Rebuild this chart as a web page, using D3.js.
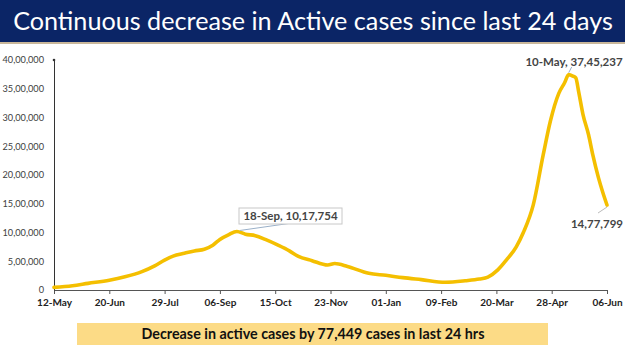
<!doctype html>
<html lang="en">
<head>
  <meta charset="utf-8">
  <title>Active cases - D3</title>
  <style>
    body { margin: 0; background: #fff; }
    svg { display: block; font-family: Lato, "Open Sans", sans-serif; }
  </style>
</head>
<body>
  <svg width="625" height="351"></svg>
  <script src="https://cdn.jsdelivr.net/npm/d3@7/dist/d3.min.js"></script>
  <script>
    var dates = ['2020-05-12', '2020-05-25', '2020-06-05', '2020-06-20', '2020-07-01', '2020-07-13', '2020-07-22',
      '2020-07-29', '2020-08-04', '2020-08-12', '2020-08-19', '2020-08-26', '2020-09-01', '2020-09-06', '2020-09-12',
      '2020-09-18', '2020-09-24', '2020-10-01', '2020-10-08', '2020-10-17', '2020-10-25', '2020-10-31', '2020-11-10',
      '2020-11-21', '2020-11-26', '2020-12-05', '2020-12-20', '2021-01-01', '2021-01-13', '2021-01-26', '2021-02-12',
      '2021-02-26', '2021-03-08', '2021-03-14', '2021-03-21', '2021-03-27', '2021-04-03', '2021-04-08', '2021-04-15',
      '2021-04-22', '2021-04-27', '2021-05-03', '2021-05-07', '2021-05-10', '2021-05-13', '2021-05-15', '2021-05-17',
      '2021-05-20', '2021-05-24', '2021-05-27', '2021-05-31', '2021-06-03', '2021-06-06'];
    var activeCases = [46000, 73000, 115000, 170000, 230000, 320000, 420000,
      520000, 590000, 640000, 680000, 710000, 780000, 880000, 960000,
      1017754, 970000, 945000, 880000, 780000, 680000, 590000, 510000,
      435000, 460000, 410000, 290000, 255000, 215000, 180000, 135000,
      160000, 190000, 225000, 350000, 520000, 750000, 1000000, 1480000,
      2350000, 2930000, 3420000, 3600000, 3745237, 3720000, 3690000, 3450000,
      3060000, 2700000, 2350000, 1950000, 1700000, 1477799];
    var tickDates = ['2020-05-12', '2020-06-20', '2020-07-29', '2020-09-06', '2020-10-15', '2020-11-23',
      '2021-01-01', '2021-02-09', '2021-03-20', '2021-04-28', '2021-06-06'];
    var yTicks = [0, 500000, 1000000, 1500000, 2000000, 2500000, 3000000, 3500000, 4000000];
    var title = 'Continuous decrease in Active cases since last 24 days';
    var footer = 'Decrease in active cases by 77,449 cases in last 24 hrs';

    var parse = d3.timeParse('%Y-%m-%d');
    var data = dates.map((d, i) => ({ date: parse(d), value: activeCases[i] }));

    // indian grouping: 37,45,237
    function inr(n) {
      var s = String(Math.round(n));
      if (s.length <= 3) return s;
      var last = s.slice(-3), rest = s.slice(0, -3);
      return rest.replace(/\B(?=(\d{2})+(?!\d))/g, ',') + ',' + last;
    }

    var svg = d3.select('svg');

    // title bar
    svg.append('rect').attr('width', 625).attr('height', 42).attr('fill', '#0b2566');
    svg.append('rect').attr('y', 42).attr('width', 625).attr('height', 2).attr('fill', '#c9b79a');
    var t = svg.append('text').attr('x', 313).attr('y', 30).attr('text-anchor', 'middle')
      .attr('fill', '#fff').attr('font-size', 26).text(title);
    var w = t.node().getComputedTextLength();
    t.attr('font-size', 26 * 600 / w);

    var x = d3.scaleTime().domain([parse(tickDates[0]), parse(tickDates[tickDates.length - 1])]).range([54, 607]);
    var y = d3.scaleLinear().domain([0, 4000000]).range([290, 60]);

    var xAxis = svg.append('g').attr('transform', 'translate(0,290)')
      .call(d3.axisBottom(x).tickValues(tickDates.map(parse)).tickFormat(d3.timeFormat('%d-%b')).tickSizeOuter(0).tickSize(4));
    xAxis.select('.domain').attr('stroke', '#555');
    xAxis.selectAll('.tick line').attr('stroke', '#555');
    xAxis.selectAll('text').attr('font-size', 10).attr('font-weight', 'bold').attr('fill', '#222')
      .attr('font-family', 'Lato, sans-serif').attr('dy', '0.9em');

    var yAxis = svg.append('g').attr('transform', 'translate(54,0)')
      .call(d3.axisLeft(y).tickValues(yTicks).tickFormat(inr).tickSize(0).tickPadding(10));
    yAxis.select('.domain').attr('stroke', '#333');
    yAxis.selectAll('text').attr('font-size', 9.2).attr('fill', '#404040').attr('font-family', 'Lato, sans-serif');
    svg.append('circle').attr('cx', 54).attr('cy', 60).attr('r', 1.3).attr('fill', '#333');

    var line = d3.line().x(d => x(d.date)).y(d => y(d.value)).curve(d3.curveMonotoneX);
    svg.append('path').datum(data).attr('d', line).attr('fill', 'none')
      .attr('stroke', '#f4bf00').attr('stroke-width', 3.6).attr('stroke-linejoin', 'round').attr('stroke-linecap', 'round');

    // annotations
    var sep = data[15], peak = data[43], last = data[data.length - 1];
    svg.append('line').attr('x1', x(sep.date) + 3).attr('y1', y(sep.value) - 1).attr('x2', 292).attr('y2', 223)
      .attr('stroke', '#9ab0c8').attr('stroke-width', 1);
    svg.append('rect').attr('x', 239).attr('y', 208).attr('width', 103).attr('height', 16)
      .attr('fill', '#fff').attr('stroke', '#c8c8c8');
    svg.append('text').attr('x', 290.5).attr('y', 220).attr('text-anchor', 'middle').attr('font-size', 11.5)
      .attr('font-weight', 'bold').attr('fill', '#444').text(d3.timeFormat('%d-%b')(sep.date) + ', ' + inr(sep.value));

    svg.append('line').attr('x1', x(peak.date)).attr('y1', y(peak.value) - 2).attr('x2', x(peak.date) + 3).attr('y2', 67)
      .attr('stroke', '#9ab0c8').attr('stroke-width', 1);
    svg.append('text').attr('x', 574).attr('y', 66).attr('text-anchor', 'middle').attr('font-size', 11.5)
      .attr('font-weight', 'bold').attr('fill', '#444').text(d3.timeFormat('%d-%b')(peak.date) + ', ' + inr(peak.value));

    svg.append('line').attr('x1', x(last.date)).attr('y1', y(last.value) + 2).attr('x2', 598).attr('y2', 213)
      .attr('stroke', '#bbb').attr('stroke-width', 1);
    svg.append('text').attr('x', 597).attr('y', 228).attr('text-anchor', 'middle').attr('font-size', 11.5)
      .attr('font-weight', 'bold').attr('fill', '#444').text(inr(last.value));

    // footer box
    svg.append('rect').attr('x', 77).attr('y', 323).attr('width', 471).attr('height', 22).attr('fill', '#fcdb86');
    svg.append('text').attr('x', 313).attr('y', 339).attr('text-anchor', 'middle').attr('font-size', 14.3)
      .attr('font-weight', 'bold').attr('fill', '#111').text(footer);
  </script>
</body>
</html>
